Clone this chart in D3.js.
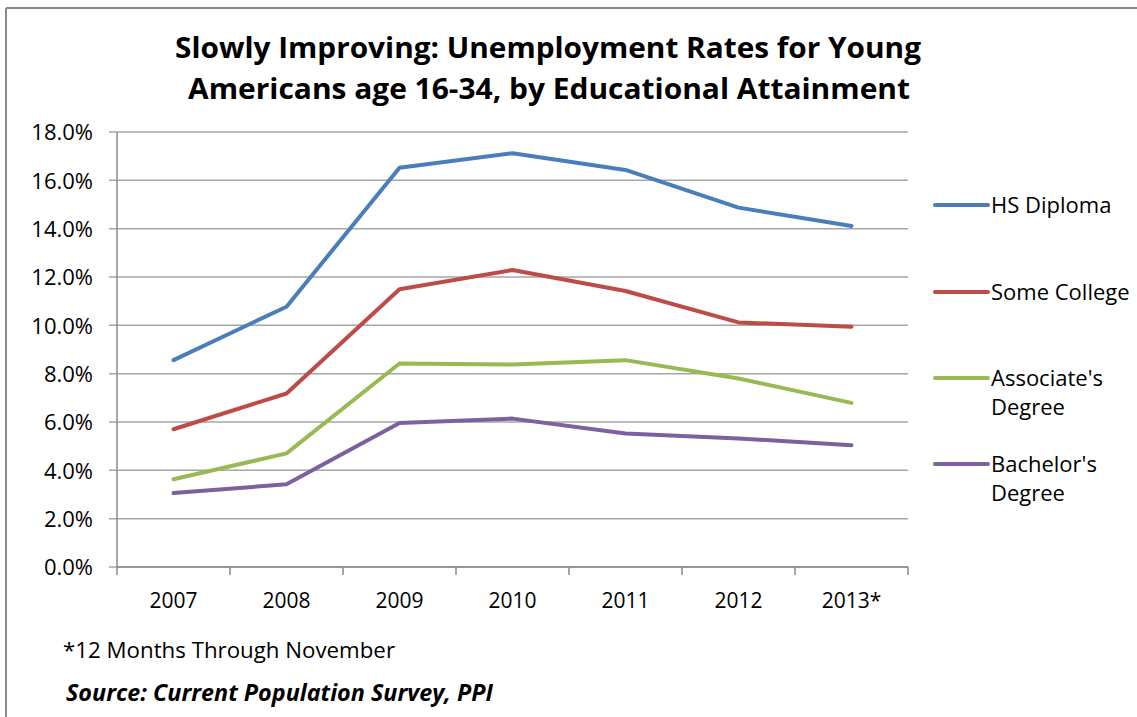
<!DOCTYPE html>
<html>
<head>
<meta charset="utf-8">
<script src="https://cdn.jsdelivr.net/npm/d3@7"></script>
<style>
  body { margin: 0; background: #fff; }
  text { font-family: "Open Sans", sans-serif; fill: #000; }
</style>
</head>
<body>
<div id="chart-area"></div>
<script>
// data
var years = ["2007", "2008", "2009", "2010", "2011", "2012", "2013*"];
var hsDiploma = [8.56, 10.77, 16.52, 17.12, 16.43, 14.87, 14.11];
var someCollege = [5.70, 7.18, 11.49, 12.29, 11.42, 10.12, 9.94];
var associates = [3.63, 4.70, 8.42, 8.38, 8.56, 7.80, 6.79];
var bachelors = [3.06, 3.42, 5.96, 6.14, 5.52, 5.32, 5.04];
var seriesNames = ["HS Diploma", "Some College", "Associate's Degree", "Bachelor's Degree"];
var yTicks = [0, 2, 4, 6, 8, 10, 12, 14, 16, 18];

var colors = ["#4A7EBB", "#BE4B48", "#98B954", "#7D60A0"];
var seriesData = [hsDiploma, someCollege, associates, bachelors];

var W = 1137, H = 717;
var margin = {left: 117, top: 132, right: 229, bottom: 150};
var width = W - margin.left - margin.right;
var height = H - margin.top - margin.bottom;

var svg = d3.select("#chart-area").append("svg")
    .attr("width", W)
    .attr("height", H);

// outer frame (only top and left visible)
svg.append("line")
    .attr("x1", 6).attr("y1", 8).attr("x2", W).attr("y2", 8)
    .attr("stroke", "#8a8a8a").attr("stroke-width", 2);
svg.append("line")
    .attr("x1", 6).attr("y1", 8).attr("x2", 6).attr("y2", H)
    .attr("stroke", "#8a8a8a").attr("stroke-width", 2);

// title
svg.append("text")
    .attr("x", 548).attr("y", 58)
    .attr("text-anchor", "middle")
    .attr("font-size", "29px")
    .attr("font-weight", "bold")
    .attr("textLength", 746)
    .attr("lengthAdjust", "spacingAndGlyphs")
    .text("Slowly Improving: Unemployment Rates for Young");
svg.append("text")
    .attr("x", 549).attr("y", 99)
    .attr("text-anchor", "middle")
    .attr("font-size", "29px")
    .attr("font-weight", "bold")
    .attr("textLength", 722)
    .attr("lengthAdjust", "spacingAndGlyphs")
    .text("Americans age 16-34, by Educational Attainment");

var g = svg.append("g")
    .attr("transform", "translate(" + margin.left + "," + margin.top + ")");

var x = d3.scaleBand()
    .domain(years)
    .range([0, width]);

var y = d3.scaleLinear()
    .domain([0, 18])
    .range([height, 0]);

// gridlines
g.append("g")
    .attr("class", "grid")
    .selectAll("line")
    .data(yTicks)
    .enter()
    .append("line")
    .attr("x1", -8)
    .attr("x2", width)
    .attr("y1", function(d) { return y(d); })
    .attr("y2", function(d) { return y(d); })
    .attr("stroke", "#a6a6a6")
    .attr("stroke-width", 1.5);

// y axis
var yAxisCall = d3.axisLeft(y)
    .tickValues(yTicks)
    .tickSize(0)
    .tickPadding(24)
    .tickFormat(function(d) { return d.toFixed(1) + "%"; });
var yAxis = g.append("g")
    .attr("class", "y axis")
    .call(yAxisCall);
yAxis.select(".domain").remove();
yAxis.selectAll("text")
    .attr("font-size", "22px")
    .attr("font-family", "Open Sans, sans-serif")
    .attr("fill", "#000")
    .attr("dy", "0.36em");
g.append("line")
    .attr("x1", 0).attr("x2", 0)
    .attr("y1", 0).attr("y2", height)
    .attr("stroke", "#8a8a8a").attr("stroke-width", 1.5);

// x axis
var xAxisCall = d3.axisBottom(x).tickSize(0).tickPadding(26);
var xAxis = g.append("g")
    .attr("class", "x axis")
    .attr("transform", "translate(0," + height + ")")
    .call(xAxisCall);
xAxis.select(".domain").remove();
xAxis.selectAll("text")
    .attr("font-size", "21px")
    .attr("font-family", "Open Sans, sans-serif")
    .attr("fill", "#000");
g.append("line")
    .attr("x1", 0).attr("x2", width)
    .attr("y1", height).attr("y2", height)
    .attr("stroke", "#8a8a8a").attr("stroke-width", 1.5);
// tick marks at band edges
var edges = years.map(function(d) { return x(d); }).concat([width]);
g.append("g")
    .selectAll("line")
    .data(edges)
    .enter()
    .append("line")
    .attr("x1", function(d) { return d; })
    .attr("x2", function(d) { return d; })
    .attr("y1", height)
    .attr("y2", height + 8)
    .attr("stroke", "#8a8a8a")
    .attr("stroke-width", 1.5);

// lines
var line = d3.line()
    .x(function(d, i) { return x(years[i]) + x.bandwidth() / 2; })
    .y(function(d) { return y(d); });

g.selectAll(".series")
    .data(seriesData)
    .enter()
    .append("path")
    .attr("class", "series")
    .attr("d", line)
    .attr("fill", "none")
    .attr("stroke", function(d, i) { return colors[i]; })
    .attr("stroke-width", 4)
    .attr("stroke-linejoin", "round")
    .attr("stroke-linecap", "round");

// legend
var legendY = [205, 292, 378, 464];
var legend = svg.selectAll(".legend")
    .data(seriesNames)
    .enter()
    .append("g")
    .attr("class", "legend")
    .attr("transform", function(d, i) { return "translate(935," + legendY[i] + ")"; });

legend.append("line")
    .attr("x1", 0).attr("x2", 53)
    .attr("y1", 0).attr("y2", 0)
    .attr("stroke", function(d, i) { return colors[i]; })
    .attr("stroke-width", 4)
    .attr("stroke-linecap", "round");

legend.append("text")
    .attr("x", 56)
    .attr("y", 8)
    .attr("font-size", "22px")
    .each(function(d) {
        var words = d.split(" ");
        var t = d3.select(this);
        if (words.length > 1 && d !== "HS Diploma" && d !== "Some College") {
            t.append("tspan").attr("x", 56).attr("dy", 0).text(words[0]);
            t.append("tspan").attr("x", 56).attr("dy", 29).text(words[1]);
        } else {
            t.text(d);
        }
    });

// notes
svg.append("text")
    .attr("x", 63).attr("y", 658)
    .attr("font-size", "22px")
    .attr("textLength", 332)
    .attr("lengthAdjust", "spacingAndGlyphs")
    .text("*12 Months Through November");
svg.append("text")
    .attr("x", 66).attr("y", 701)
    .attr("font-size", "23px")
    .attr("font-weight", "bold")
    .attr("font-style", "italic")
    .attr("textLength", 427)
    .attr("lengthAdjust", "spacingAndGlyphs")
    .text("Source: Current Population Survey, PPI");
</script>
</body>
</html>
